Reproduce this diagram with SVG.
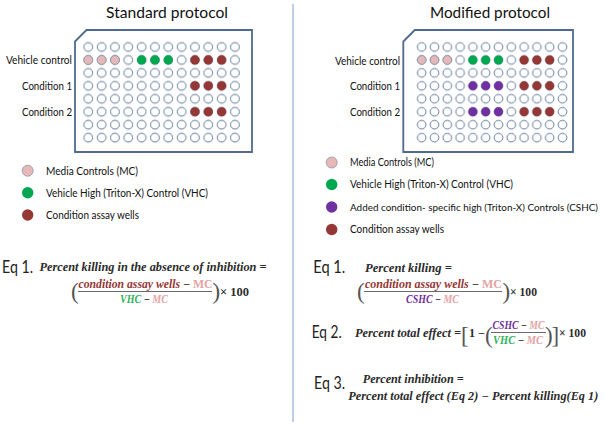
<svg xmlns="http://www.w3.org/2000/svg" width="605" height="426" viewBox="0 0 605 426">
<style>
.t{font-family:Lato,"Open Sans","Liberation Sans",sans-serif;fill:#111}
.title{font-size:16px}
.lab{font-size:11px}
.leg{font-size:11px}
.eq{font-size:16.5px;fill:#222}
.m{font-family:"Liberation Serif","DejaVu Serif",serif;font-weight:bold;font-style:italic;font-size:11.5px;fill:#2b2b2b}
.br{font-family:"Liberation Serif","DejaVu Serif",serif;font-weight:normal;fill:#555}
.n{font-style:normal}
.plate{fill:#fff;stroke:#4f6a8f;stroke-width:1.8}
.w{stroke:#4f6a8f;stroke-width:0.9;fill:#fff}
.mc{fill:#e6b9b8;stroke:#8a93a8;stroke-width:0.8}
.vhc{fill:#00a650}
.cw{fill:#953735}
.cs{fill:#7030a0}
.red{fill:#953735}
.pink{fill:#e3a3a2}
.grn{fill:#2fb15a}
.pur{fill:#7030a0}
.bar{stroke:#444;stroke-width:0.8}
</style>
<defs>
<pattern id="gl" patternUnits="userSpaceOnUse" x="81.63" y="40.525" width="13.333" height="12.95">
<circle class="w" cx="6.667" cy="6.475" r="4.4"/>
</pattern>
<pattern id="gr" patternUnits="userSpaceOnUse" x="415.3" y="40.525" width="12.8" height="12.95">
<circle class="w" cx="6.4" cy="6.475" r="4.3"/>
</pattern>
</defs>
<rect width="605" height="426" fill="#fff"/>

<line x1="293" y1="4" x2="293" y2="422" stroke="#8fb0d3" stroke-width="1.2"/>

<!-- Standard protocol -->
<g id="left-panel">
<text class="t title" x="167" y="18" text-anchor="middle" textLength="122" lengthAdjust="spacingAndGlyphs">Standard protocol</text>
<g id="left-plate">
<path class="plate" d="M75,41.5 L86.5,30 L252,30 L252,152 L75,152 Z"/>
<rect x="81.63" y="40.525" width="160" height="103.6" fill="url(#gl)"/>
<circle class="mc" cx="88.3" cy="59.95" r="4.4"/>
<circle class="mc" cx="101.63" cy="59.95" r="4.4"/>
<circle class="mc" cx="114.97" cy="59.95" r="4.4"/>
<circle class="vhc" cx="141.63" cy="59.95" r="4.6"/>
<circle class="vhc" cx="154.97" cy="59.95" r="4.6"/>
<circle class="vhc" cx="168.3" cy="59.95" r="4.6"/>
<circle class="cw" cx="194.97" cy="59.95" r="4.6"/>
<circle class="cw" cx="208.3" cy="59.95" r="4.6"/>
<circle class="cw" cx="221.63" cy="59.95" r="4.6"/>
<circle class="cw" cx="194.97" cy="85.85" r="4.6"/>
<circle class="cw" cx="208.3" cy="85.85" r="4.6"/>
<circle class="cw" cx="221.63" cy="85.85" r="4.6"/>
<circle class="cw" cx="194.97" cy="111.75" r="4.6"/>
<circle class="cw" cx="208.3" cy="111.75" r="4.6"/>
<circle class="cw" cx="221.63" cy="111.75" r="4.6"/>
</g>
<text class="t lab" x="72" y="63.8" text-anchor="end" textLength="66" lengthAdjust="spacingAndGlyphs">Vehicle control</text>
<text class="t lab" x="72" y="89.7" text-anchor="end" textLength="50" lengthAdjust="spacingAndGlyphs">Condition 1</text>
<text class="t lab" x="72" y="115.6" text-anchor="end" textLength="50" lengthAdjust="spacingAndGlyphs">Condition 2</text>

<g id="left-legend">
<circle class="mc" cx="27.7" cy="170.7" r="5.5"/>
<circle class="vhc" cx="27.7" cy="192.7" r="5.7"/>
<circle class="cw" cx="27.7" cy="215" r="5.7"/>
<text class="t leg" x="46" y="174.5" textLength="92" lengthAdjust="spacingAndGlyphs">Media Controls (MC)</text>
<text class="t leg" x="46" y="196.5" textLength="162" lengthAdjust="spacingAndGlyphs">Vehicle High (Triton-X) Control (VHC)</text>
<text class="t leg" x="46" y="218.8" textLength="93" lengthAdjust="spacingAndGlyphs">Condition assay wells</text>
</g>

<g id="left-eq1">
<text class="t eq" x="2" y="273" textLength="31" lengthAdjust="spacingAndGlyphs">Eq 1.</text>
<text class="m" x="39.5" y="271" textLength="227" lengthAdjust="spacingAndGlyphs">Percent killing in the absence of inhibition =</text>
<text class="br" x="71" y="299" font-size="23">(</text>
<text class="m" x="78.5" y="287.5" textLength="134" lengthAdjust="spacingAndGlyphs"><tspan class="red">condition assay wells</tspan> − <tspan class="pink n">MC</tspan></text>
<line class="bar" x1="78" y1="291.5" x2="212" y2="291.5"/>
<text class="m" x="120" y="302.5" textLength="48" lengthAdjust="spacingAndGlyphs"><tspan class="grn">VHC</tspan> − <tspan class="pink">MC</tspan></text>
<text class="br" x="212.5" y="299" font-size="23">)</text>
<text class="m n" x="220" y="296" textLength="29" lengthAdjust="spacingAndGlyphs">× 100</text>
</g>
</g>

<!-- Modified protocol -->
<g id="right-panel">
<text class="t title" x="490" y="18" text-anchor="middle" textLength="120" lengthAdjust="spacingAndGlyphs">Modified protocol</text>
<g id="right-plate">
<path class="plate" d="M403.3,41.5 L414.8,30 L573,30 L573,152 L403.3,152 Z"/>
<rect x="415.3" y="40.525" width="153.6" height="103.6" fill="url(#gr)"/>
<circle class="mc" cx="421.7" cy="59.95" r="4.3"/>
<circle class="mc" cx="434.5" cy="59.95" r="4.3"/>
<circle class="mc" cx="447.3" cy="59.95" r="4.3"/>
<circle class="vhc" cx="472.9" cy="59.95" r="4.5"/>
<circle class="vhc" cx="485.7" cy="59.95" r="4.5"/>
<circle class="vhc" cx="498.5" cy="59.95" r="4.5"/>
<circle class="cw" cx="524.1" cy="59.95" r="4.5"/>
<circle class="cw" cx="536.9" cy="59.95" r="4.5"/>
<circle class="cw" cx="549.7" cy="59.95" r="4.5"/>
<circle class="cs" cx="472.9" cy="85.85" r="4.5"/>
<circle class="cs" cx="485.7" cy="85.85" r="4.5"/>
<circle class="cs" cx="498.5" cy="85.85" r="4.5"/>
<circle class="cw" cx="524.1" cy="85.85" r="4.5"/>
<circle class="cw" cx="536.9" cy="85.85" r="4.5"/>
<circle class="cw" cx="549.7" cy="85.85" r="4.5"/>
<circle class="cs" cx="472.9" cy="111.75" r="4.5"/>
<circle class="cs" cx="485.7" cy="111.75" r="4.5"/>
<circle class="cs" cx="498.5" cy="111.75" r="4.5"/>
<circle class="cw" cx="524.1" cy="111.75" r="4.5"/>
<circle class="cw" cx="536.9" cy="111.75" r="4.5"/>
<circle class="cw" cx="549.7" cy="111.75" r="4.5"/>
</g>
<text class="t lab" x="400" y="64.5" text-anchor="end" textLength="65" lengthAdjust="spacingAndGlyphs">Vehicle control</text>
<text class="t lab" x="400" y="90.3" text-anchor="end" textLength="50" lengthAdjust="spacingAndGlyphs">Condition 1</text>
<text class="t lab" x="400" y="116.2" text-anchor="end" textLength="50" lengthAdjust="spacingAndGlyphs">Condition 2</text>

<g id="right-legend">
<circle class="mc" cx="331.7" cy="162.5" r="5.5"/>
<circle class="vhc" cx="331.7" cy="184.5" r="5.7"/>
<circle class="cs" cx="331.7" cy="207" r="5.7"/>
<circle class="cw" cx="331.7" cy="229.5" r="5.7"/>
<text class="t leg" x="350" y="166.3" textLength="84" lengthAdjust="spacingAndGlyphs">Media Controls (MC)</text>
<text class="t leg" x="350" y="188.3" textLength="163" lengthAdjust="spacingAndGlyphs">Vehicle High (Triton-X) Control (VHC)</text>
<text class="t" x="350" y="210.8" font-size="10" textLength="248" lengthAdjust="spacingAndGlyphs">Added condition- specific high (Triton-X) Controls (CSHC)</text>
<text class="t leg" x="350" y="233.3" textLength="94" lengthAdjust="spacingAndGlyphs">Condition assay wells</text>
</g>

<g id="right-eq1">
<text class="t eq" x="313.3" y="273" textLength="32" lengthAdjust="spacingAndGlyphs">Eq 1.</text>
<text class="m" x="365" y="272" textLength="87" lengthAdjust="spacingAndGlyphs">Percent killing =</text>
<text class="br" x="357" y="299" font-size="23">(</text>
<text class="m" x="365" y="287.5" textLength="137" lengthAdjust="spacingAndGlyphs"><tspan class="red">condition assay wells</tspan> − <tspan class="pink n">MC</tspan></text>
<line class="bar" x1="364" y1="291.5" x2="502" y2="291.5"/>
<text class="m" x="406" y="302.5" textLength="53" lengthAdjust="spacingAndGlyphs"><tspan class="pur">CSHC</tspan> − <tspan class="pink">MC</tspan></text>
<text class="br" x="502.5" y="299" font-size="23">)</text>
<text class="m n" x="510" y="296" textLength="27" lengthAdjust="spacingAndGlyphs">× 100</text>
</g>

<g id="right-eq2">
<text class="t eq" x="311.7" y="338" font-size="17" textLength="30" lengthAdjust="spacingAndGlyphs">Eq 2.</text>
<text class="m" x="355" y="337" textLength="106" lengthAdjust="spacingAndGlyphs">Percent total effect =</text>
<text class="br" x="461" y="343" font-size="23">[</text>
<text class="m n" x="469" y="337" textLength="16" lengthAdjust="spacingAndGlyphs">1 −</text>
<text class="br" x="485" y="343" font-size="23">(</text>
<text class="m" x="492.5" y="328.5" textLength="52" lengthAdjust="spacingAndGlyphs"><tspan class="pur">CSHC</tspan> − <tspan class="pink">MC</tspan></text>
<line class="bar" x1="491" y1="332.5" x2="546" y2="332.5"/>
<text class="m" x="493" y="344" textLength="50" lengthAdjust="spacingAndGlyphs"><tspan class="grn">VHC</tspan> − <tspan class="pink">MC</tspan></text>
<text class="br" x="545" y="343" font-size="23">)</text>
<text class="br" x="551.5" y="343" font-size="23">]</text>
<text class="m n" x="559" y="337" textLength="27" lengthAdjust="spacingAndGlyphs">× 100</text>
</g>

<g id="right-eq3">
<text class="t eq" x="314" y="389" font-size="17" textLength="31" lengthAdjust="spacingAndGlyphs">Eq 3.</text>
<text class="m" x="362.7" y="383" textLength="101" lengthAdjust="spacingAndGlyphs">Percent inhibition =</text>
<text class="m" x="348.3" y="400" textLength="250" lengthAdjust="spacingAndGlyphs">Percent total effect (Eq 2) − Percent killing(Eq 1)</text>
</g>
</g>
</svg>
